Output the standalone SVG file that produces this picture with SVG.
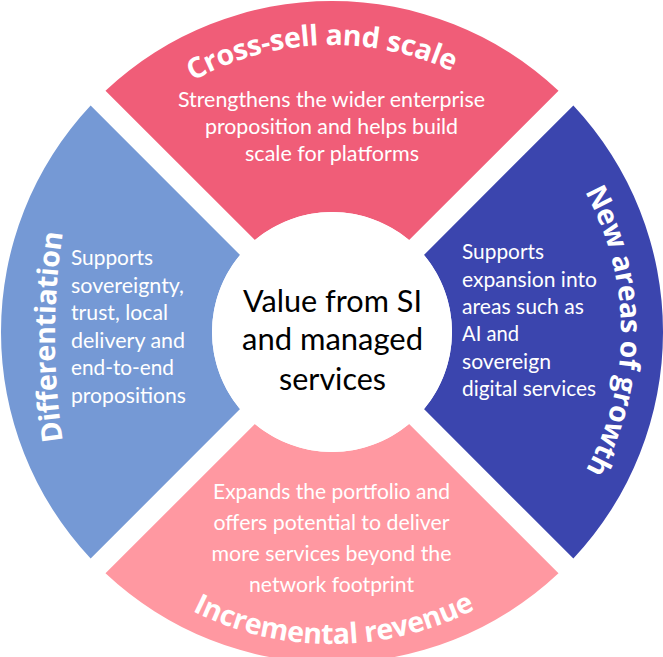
<svg xmlns="http://www.w3.org/2000/svg" width="663" height="657" viewBox="0 0 663 657">
<style>
.body{font-family:Lato,"Open Sans","Liberation Sans",sans-serif;font-size:21.5px;fill:#fff}
.mid{text-anchor:middle}
.title{font-family:"Open Sans","Liberation Sans",sans-serif;font-weight:700;font-size:28.5px;letter-spacing:-0.3px;fill:#fff}
.core{font-family:Lato,"Open Sans","Liberation Sans",sans-serif;font-size:31px;fill:#000;text-anchor:middle}
</style>
<defs>
<path id="arcTop" d="M 83.45 188.5 A 287 287 0 0 1 580.55 188.5"/>
<path id="arcRight" d="M 476.5 81.72 A 289 289 0 0 1 476.5 582.28"/>
<path id="arcBottom" d="M 61.8 488 A 312 312 0 0 0 602.2 488"/>
<path id="arcLeft" d="M 78.85 518.17 A 700 700 0 0 1 78.85 155.83"/>
</defs>
<rect width="663" height="657" fill="#fff"/>
<g id="connectors"></g>
<g id="seg-top">
<path d="M 105.49 90.64 A 331 331 0 0 1 558.51 90.64 L 409.10 240.05 A 120 120 0 0 0 254.90 240.05 Z" fill="#F05D78"/>
<text class="title"><textPath href="#arcTop" startOffset="48.2%" text-anchor="middle">Cross-sell and scale</textPath></text>
<text class="body mid" x="331.5" y="107" textLength="307" lengthAdjust="spacingAndGlyphs">Strengthens the wider enterprise</text>
<text class="body mid" x="331.5" y="134" textLength="253" lengthAdjust="spacingAndGlyphs">proposition and helps build</text>
<text class="body mid" x="332" y="161" textLength="174" lengthAdjust="spacingAndGlyphs">scale for platforms</text>
</g>
<g id="seg-right">
<path d="M 573.36 105.49 A 331 331 0 0 1 573.36 558.51 L 423.95 409.10 A 120 120 0 0 0 423.95 254.90 Z" fill="#3B45AE"/>
<text class="title"><textPath href="#arcRight" startOffset="49.8%" text-anchor="middle">New areas of growth</textPath></text>
<text class="body" x="462" y="259" textLength="82" lengthAdjust="spacingAndGlyphs">Supports</text>
<text class="body" x="462" y="287" textLength="135" lengthAdjust="spacingAndGlyphs">expansion into</text>
<text class="body" x="462" y="314" textLength="122" lengthAdjust="spacingAndGlyphs">areas such as</text>
<text class="body" x="462" y="341" textLength="57" lengthAdjust="spacingAndGlyphs">AI and</text>
<text class="body" x="462" y="369" textLength="89" lengthAdjust="spacingAndGlyphs">sovereign</text>
<text class="body" x="462" y="396" textLength="134" lengthAdjust="spacingAndGlyphs">digital services</text>
</g>
<g id="seg-bottom">
<path d="M 558.51 573.36 A 331 331 0 0 1 105.49 573.36 L 254.90 423.95 A 120 120 0 0 0 409.10 423.95 Z" fill="#FF98A1"/>
<text class="title"><textPath href="#arcBottom" startOffset="50.3%" text-anchor="middle">Incremental revenue</textPath></text>
<text class="body mid" x="331.5" y="499" textLength="237" lengthAdjust="spacingAndGlyphs">Expands the portfolio and</text>
<text class="body mid" x="331.5" y="529.5" textLength="236" lengthAdjust="spacingAndGlyphs">offers potential to deliver</text>
<text class="body mid" x="331.5" y="560.5" textLength="240" lengthAdjust="spacingAndGlyphs">more services beyond the</text>
<text class="body mid" x="331.5" y="592" textLength="165" lengthAdjust="spacingAndGlyphs">network footprint</text>
</g>
<g id="seg-left">
<path d="M 90.64 558.51 A 331 331 0 0 1 90.64 105.49 L 240.05 254.90 A 120 120 0 0 0 240.05 409.10 Z" fill="#7599D5"/>
<text class="title"><textPath href="#arcLeft" startOffset="50%" text-anchor="middle">Differentiation</textPath></text>
<text class="body" x="71" y="265" textLength="82" lengthAdjust="spacingAndGlyphs">Supports</text>
<text class="body" x="71" y="293" textLength="113" lengthAdjust="spacingAndGlyphs">sovereignty,</text>
<text class="body" x="71" y="320" textLength="97" lengthAdjust="spacingAndGlyphs">trust, local</text>
<text class="body" x="71" y="348" textLength="114" lengthAdjust="spacingAndGlyphs">delivery and</text>
<text class="body" x="71" y="375" textLength="103" lengthAdjust="spacingAndGlyphs">end-to-end</text>
<text class="body" x="71" y="403" textLength="115" lengthAdjust="spacingAndGlyphs">propositions</text>
</g>
<g id="center">
<circle cx="332" cy="332" r="120" fill="#fff"/>
<text class="core" x="332.5" y="312" textLength="179" lengthAdjust="spacingAndGlyphs">Value from SI</text>
<text class="core" x="332.5" y="350" textLength="181" lengthAdjust="spacingAndGlyphs">and managed</text>
<text class="core" x="332.5" y="390" textLength="107" lengthAdjust="spacingAndGlyphs">services</text>
</g>
</svg>
